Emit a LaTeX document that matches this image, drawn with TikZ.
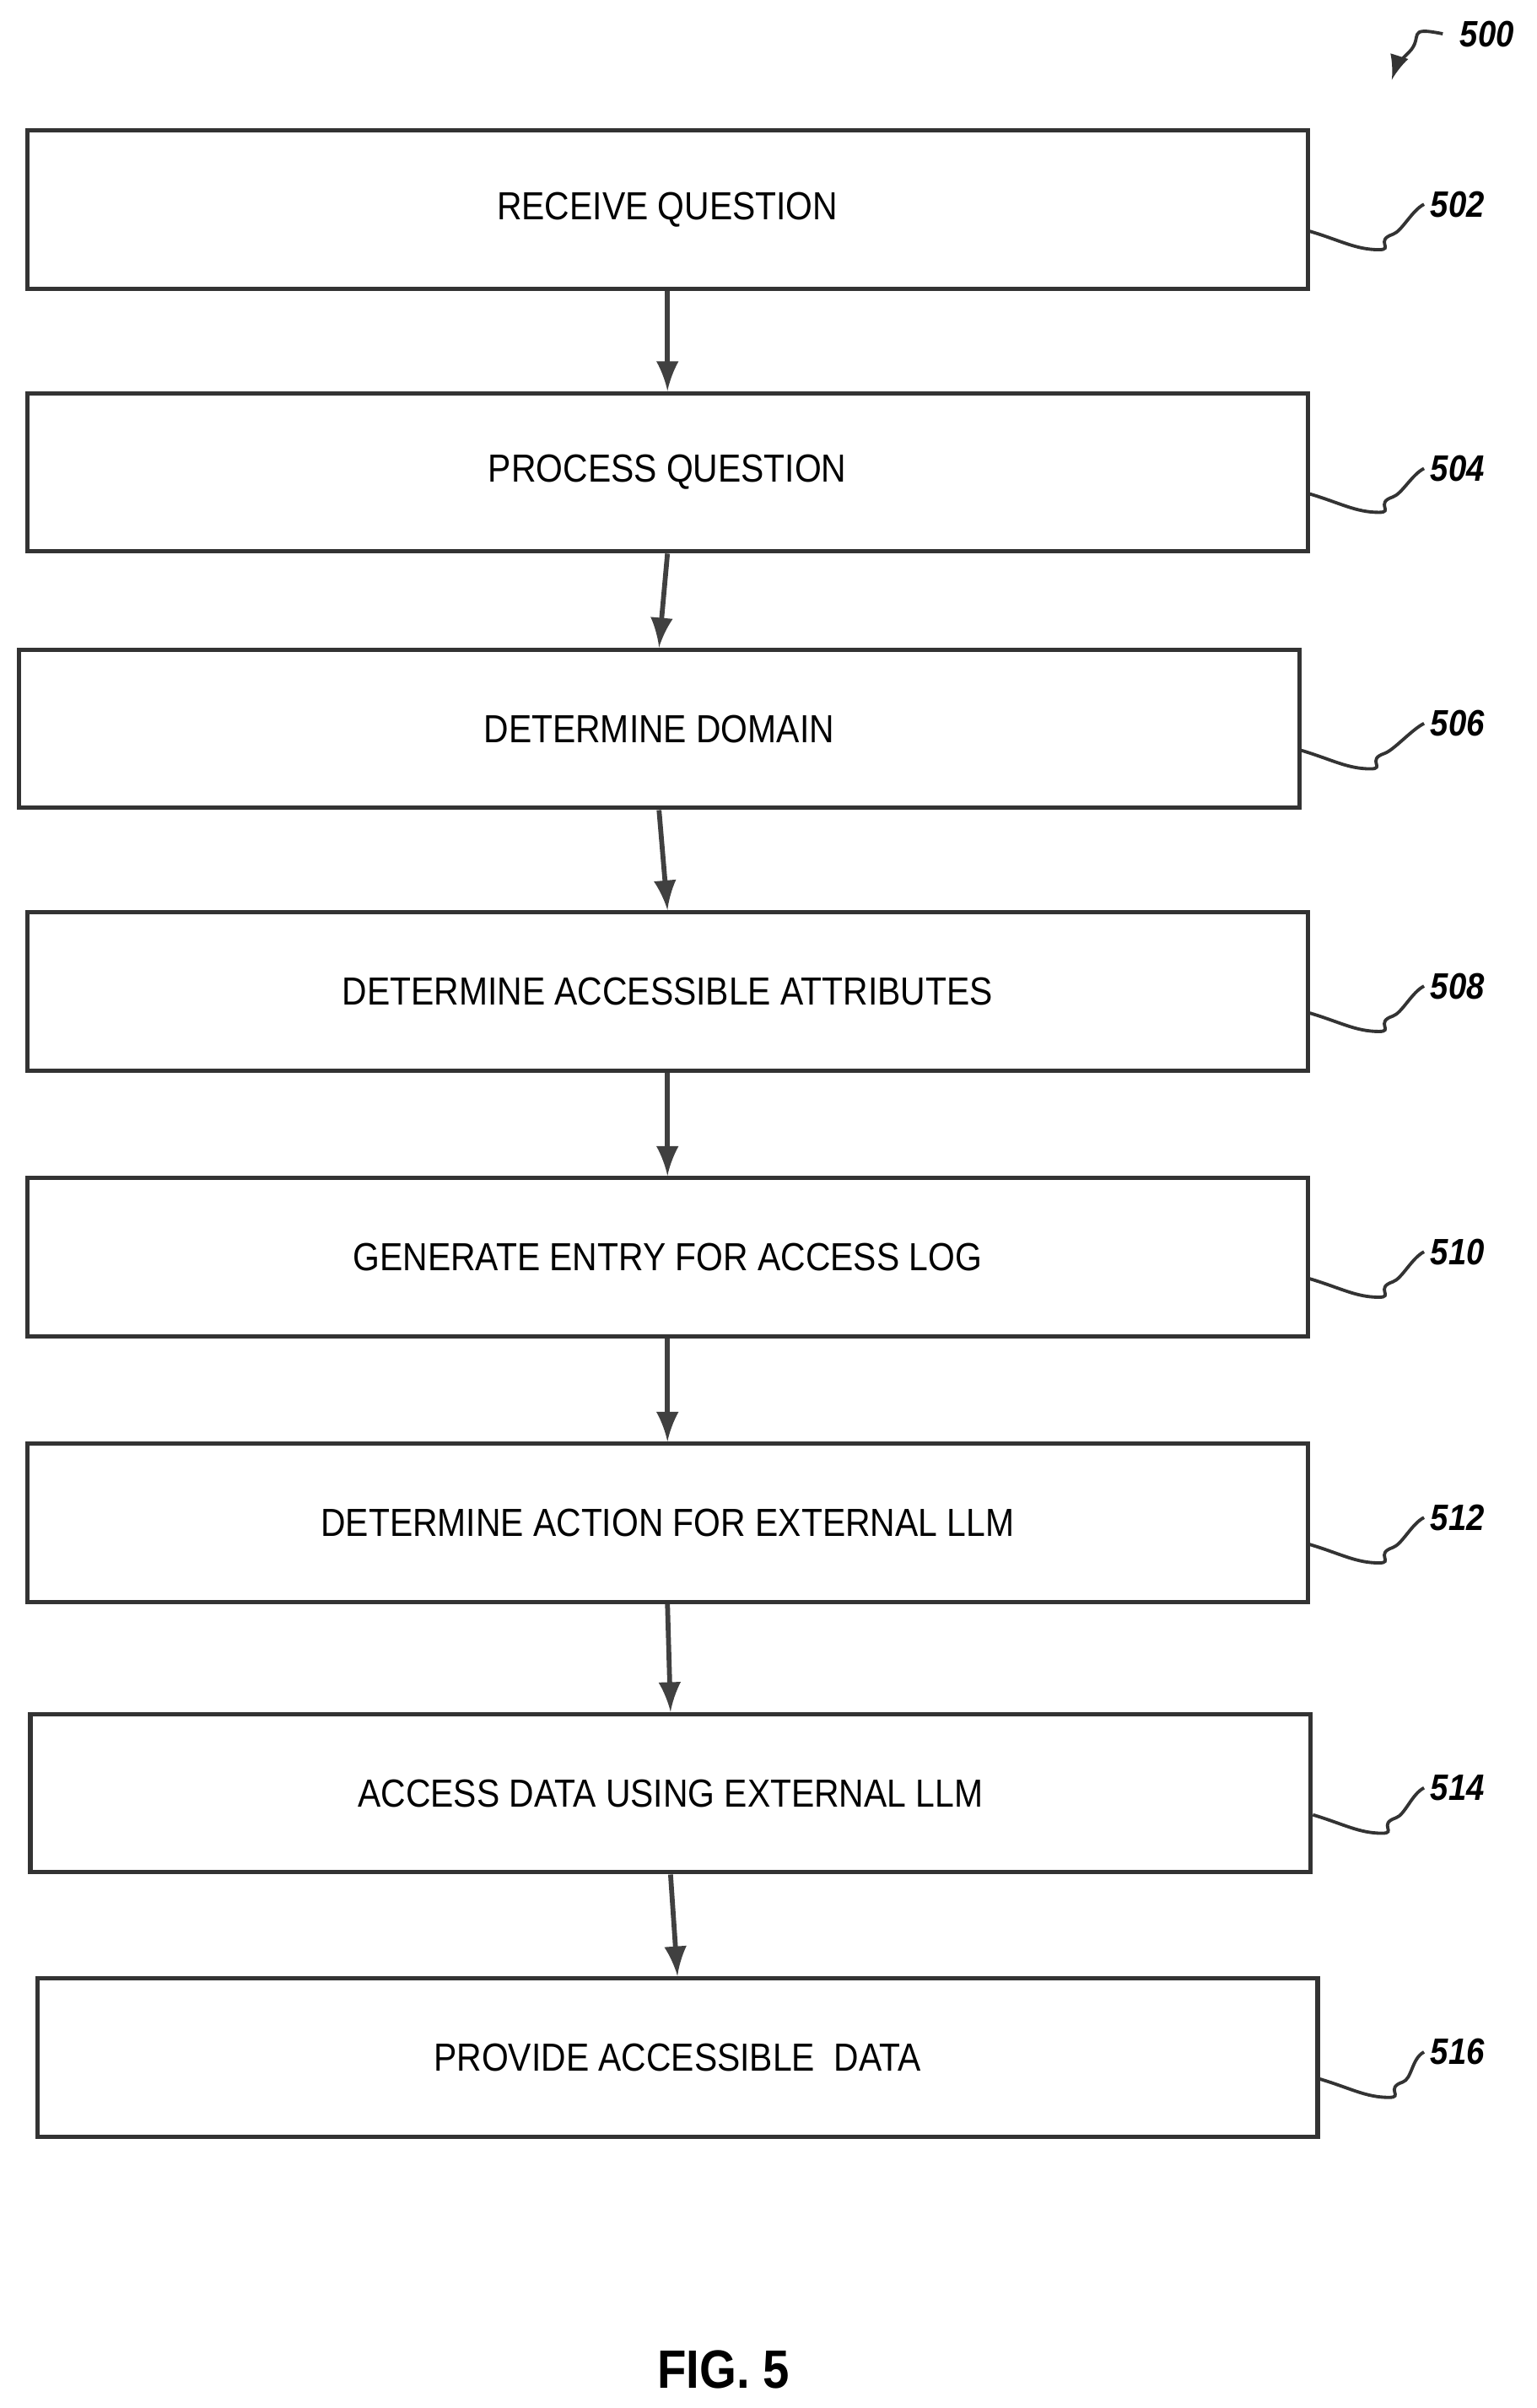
\documentclass[tikz,border=0pt]{standalone}
\usepackage{fontspec}
\setmainfont{Liberation Sans}[FakeStretch=0.88]
\usetikzlibrary{positioning}

\begin{document}
\begin{tikzpicture}[x=0.01cm,y=0.01cm,
    stepbox/.style={draw=black!80,line width=0.8pt,minimum width=8.33cm,minimum height=1.03cm,
        inner sep=0pt,font=\fontsize{7.25}{8}\selectfont},
    num/.style={font=\fontsize{6.8}{8}\selectfont\bfseries\itshape,inner sep=1pt},
    lead/.style={draw=black!80,line width=0.6pt},
    flow/.style={->,>=latex,draw=black!75,line width=0.9pt}]
    \useasboundingbox (0,0) rectangle (1000,-1567.8);
    % steps
    \node[stepbox] (s502) at (434.5,-136.5) {RECEIVE QUESTION};
    \node[stepbox] (s504) at (434.5,-307.5) {PROCESS QUESTION};
    \node[stepbox] (s506) at (429,-474.5) {DETERMINE DOMAIN};
    \node[stepbox] (s508) at (434.5,-645.5) {DETERMINE ACCESSIBLE ATTRIBUTES};
    \node[stepbox] (s510) at (434.5,-818.5) {GENERATE ENTRY FOR ACCESS LOG};
    \node[stepbox] (s512) at (434.5,-991.5) {DETERMINE ACTION FOR EXTERNAL LLM};
    \node[stepbox] (s514) at (436.5,-1167.5) {ACCESS DATA USING EXTERNAL LLM};
    \node[stepbox] (s516) at (441,-1339.5) {PROVIDE ACCESSIBLE\ \ DATA};
    % reference numbers
    \foreach \n/\y in {502/-133,504/-305,506/-471,508/-642,510/-815,512/-988,514/-1164,516/-1336}{
        \node[num,anchor=west] (l\n) at (927,\y) {\n};
        \draw[lead] ([yshift=-4]s\n.east) .. controls +(20,-6) and +(-15,0) .. +(45,-12)
            .. controls +(10,0) and +(-12,-4) .. +(54,-2)
            .. controls +(6,2) and +(-8,-4) .. (l\n.west);
    }
    % flow
    \foreach \a/\b in {502/504,504/506,506/508,508/510,510/512,512/514,514/516}{
        \draw[flow] (s\a.south) -- (s\b.north);
    }
    % figure number
    \node[num] (l500) at (968,-22) {500};
    \coordinate (t500) at (906,-52);
    \draw[lead,->,>=latex] ([xshift=-2]l500.west) .. controls +(-25,5) and +(10,10) .. +(-22,-12)
        .. controls +(-8,-8) .. (t500);
    \node[font=\fontsize{10}{12}\selectfont\bfseries] (fig) at (471,-1543) {FIG. 5};
\end{tikzpicture}
\end{document}
